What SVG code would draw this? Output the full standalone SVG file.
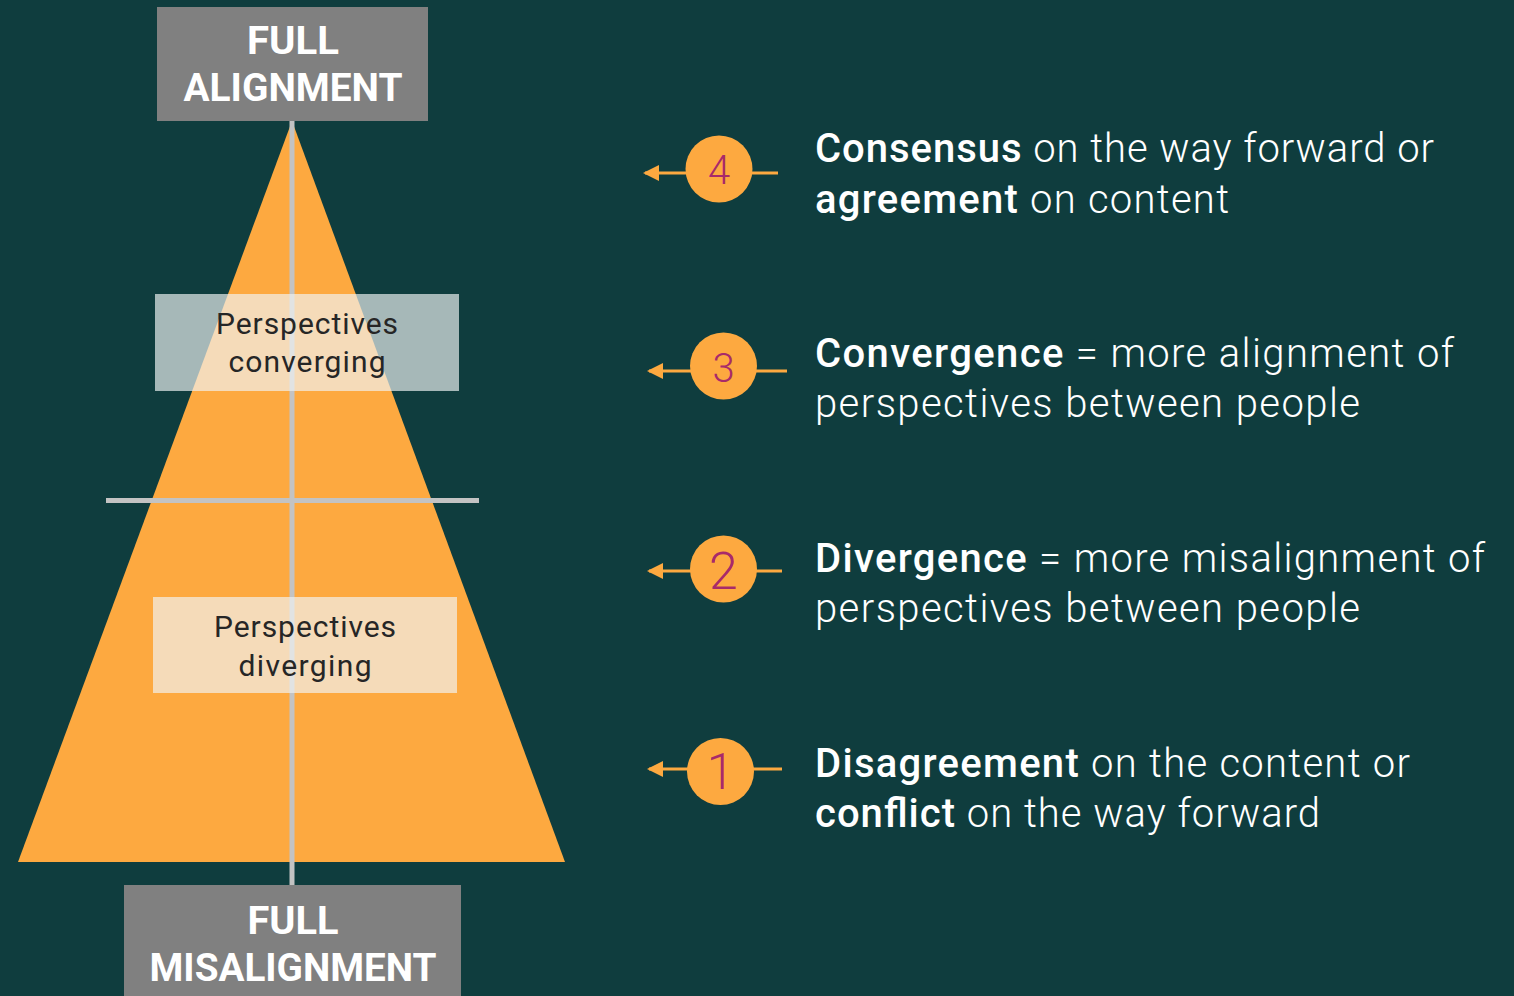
<svg xmlns="http://www.w3.org/2000/svg" width="1514" height="996" viewBox="0 0 1514 996">
  <style>
    .end-box { fill: #808080; }
    .end-label { font-family: Roboto, "Liberation Sans", sans-serif; font-weight: 700; font-size: 38px; fill: #ffffff; text-anchor: middle; }
    .phase-box { fill: #F0F3F3; fill-opacity: 0.675; }
    .phase-label { font-family: Roboto, "Liberation Sans", sans-serif; font-weight: 400; font-size: 30px; fill: #262626; text-anchor: middle; }
    .axis { stroke: #C3C3C3; stroke-width: 5; fill: none; }
    .step-arrow { stroke: #FDA940; stroke-width: 3; fill: none; }
    .step-circle { fill: #FDA940; }
    .step-num { font-family: Roboto, "Liberation Sans", sans-serif; font-weight: 300; fill: #A82A6A; text-anchor: middle; }
    .desc { font-family: Roboto, "Liberation Sans", sans-serif; font-weight: 300; font-size: 40px; fill: #ffffff; }
    .desc .b { font-weight: 500; }
  </style>
  <defs>
    <marker id="arrowhead" viewBox="0 0 16 16" refX="14" refY="8" markerWidth="16" markerHeight="16" markerUnits="userSpaceOnUse" orient="auto">
      <path d="M0,0 L16,8 L0,16 Z" fill="#FDA940"/>
    </marker>
  </defs>

  <!-- background -->
  <rect x="0" y="0" width="1514" height="996" fill="#0F3D3E"/>

  <!-- pyramid -->
  <g id="pyramid">
    <polygon points="292,121 565,862 18,862" fill="#FDA940"/>
  </g>

  <!-- axis lines and step arrows -->
  <g id="connectors">
    <line class="axis" x1="292" y1="121" x2="292" y2="886"/>
    <line class="axis" x1="106" y1="500.5" x2="479" y2="500.5" stroke-width="4"/>
    <line class="step-arrow" x1="778" y1="173" x2="645" y2="173" marker-end="url(#arrowhead)"/>
    <line class="step-arrow" x1="787" y1="371" x2="649" y2="371" marker-end="url(#arrowhead)"/>
    <line class="step-arrow" x1="782" y1="571" x2="649" y2="571" marker-end="url(#arrowhead)"/>
    <line class="step-arrow" x1="782" y1="769" x2="649" y2="769" marker-end="url(#arrowhead)"/>
  </g>

  <g id="phase-converging">
    <rect class="phase-box" x="155" y="294" width="304" height="97"/>
    <text class="phase-label" x="307" y="334" textLength="182" lengthAdjust="spacing">Perspectives</text>
    <text class="phase-label" x="307" y="372" textLength="157" lengthAdjust="spacing">converging</text>
  </g>

  <g id="phase-diverging">
    <rect class="phase-box" x="153" y="597" width="304" height="96"/>
    <text class="phase-label" x="305" y="637" textLength="182" lengthAdjust="spacing">Perspectives</text>
    <text class="phase-label" x="305" y="676" textLength="133" lengthAdjust="spacing">diverging</text>
  </g>

  <g id="full-alignment">
    <rect class="end-box" x="157" y="7" width="271" height="114"/>
    <text class="end-label" x="293" y="54" textLength="92" lengthAdjust="spacingAndGlyphs">FULL</text>
    <text class="end-label" x="293" y="101" textLength="219" lengthAdjust="spacingAndGlyphs">ALIGNMENT</text>
  </g>

  <g id="full-misalignment">
    <rect class="end-box" x="124" y="885" width="337" height="111"/>
    <text class="end-label" x="293" y="934" textLength="91" lengthAdjust="spacingAndGlyphs">FULL</text>
    <text class="end-label" x="293" y="981" textLength="287" lengthAdjust="spacingAndGlyphs">MISALIGNMENT</text>
  </g>

  <g id="step-4">
    <circle class="step-circle" cx="719" cy="169" r="33.5"/>
    <text class="step-num" x="719" y="184" font-size="40">4</text>
    <text class="desc" x="815" y="162" textLength="619" lengthAdjust="spacing"><tspan class="b">Consensus</tspan> on the way forward or</text>
    <text class="desc" x="815" y="213" textLength="414" lengthAdjust="spacing"><tspan class="b">agreement</tspan> on content</text>
  </g>

  <g id="step-3">
    <circle class="step-circle" cx="723.5" cy="366" r="33.5"/>
    <text class="step-num" x="723.5" y="382" font-size="40">3</text>
    <text class="desc" x="815" y="367" textLength="639" lengthAdjust="spacing"><tspan class="b">Convergence</tspan> = more alignment of</text>
    <text class="desc" x="815" y="417" textLength="545" lengthAdjust="spacing">perspectives between people</text>
  </g>

  <g id="step-2">
    <circle class="step-circle" cx="723.5" cy="569" r="33.5"/>
    <text class="step-num" x="723.5" y="589" font-size="52">2</text>
    <text class="desc" x="815" y="572" textLength="670" lengthAdjust="spacing"><tspan class="b">Divergence</tspan> = more misalignment of</text>
    <text class="desc" x="815" y="622" textLength="545" lengthAdjust="spacing">perspectives between people</text>
  </g>

  <g id="step-1">
    <circle class="step-circle" cx="720.5" cy="771.5" r="33.5"/>
    <text class="step-num" x="720.5" y="789" font-size="50">1</text>
    <text class="desc" x="815" y="777" textLength="595" lengthAdjust="spacing"><tspan class="b">Disagreement</tspan> on the content or</text>
    <text class="desc" x="815" y="827" textLength="505" lengthAdjust="spacing"><tspan class="b">conflict</tspan> on the way forward</text>
  </g>
</svg>
